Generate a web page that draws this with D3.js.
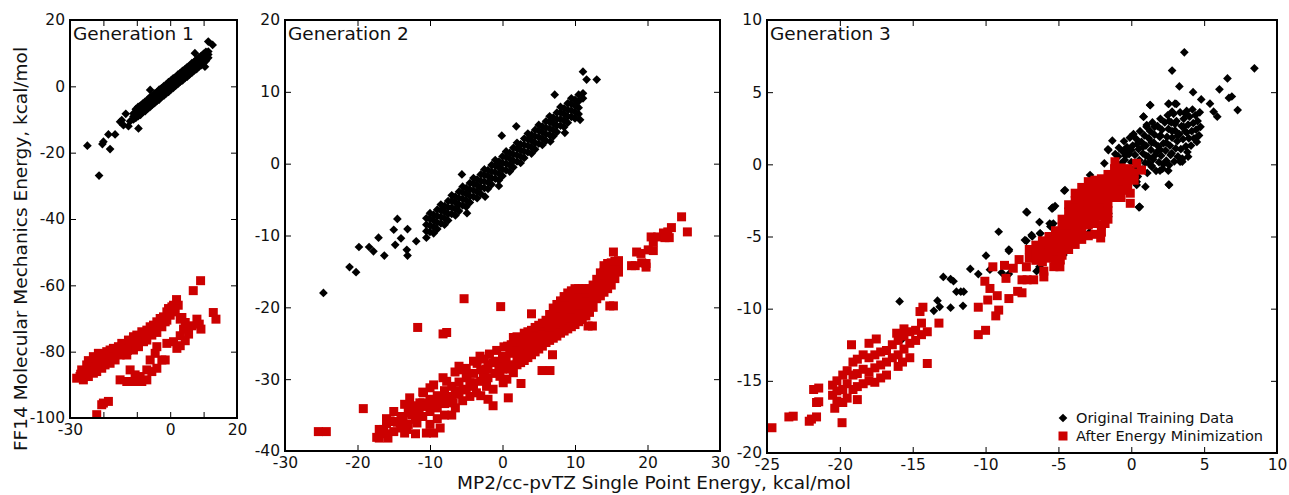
<!DOCTYPE html>
<html>
<head>
<meta charset="utf-8">
<script src="https://cdn.jsdelivr.net/npm/d3@7"></script>
<style>
  body { margin: 0; background: #fff; }
  svg { display: block; font-family: "DejaVu Sans", sans-serif; }
</style>
</head>
<body>
<svg id="chart"></svg>
<script>
// ---- data: [MP2 energy, FF14 energy] ----

// Generation 1
const g1Orig = [
  [-24.8,-17.9],[-21.3,-26.9],[-20.3,-17.4],[-20,-16.7],[-18.5,-14.5],[-16.5,-14.5],[-18,-18.9],
  [-15,-10.7],[-14,-11.7],[-12.5,-12],[-13.3,-8.3],[-9.5,-12.7],[-6,-1.1],[10.4,5.9],[7.4,10],
  [11.4,13.5],[12.7,12.5],[-14.5,-10.2],[-12,-10.5],
  [-11,-10.0],[-11,-9.1],[-11,-8.2],[-10.3,-9.5],[-10.3,-8.7],[-10.3,-7.7],[-10.3,-6.9],
  [-9.6,-9.0],[-9.6,-8.1],[-9.6,-7.3],[-9.6,-6.2],[-8.9,-8.6],[-8.9,-7.5],[-8.9,-6.7],[-8.9,-5.8],
  [-8.2,-7.8],[-8.2,-7.0],[-8.2,-6.0],[-8.2,-5.2],[-7.5,-7.5],[-7.5,-6.4],[-7.5,-5.6],[-7.5,-4.6],
  [-6.8,-6.7],[-6.8,-5.9],[-6.8,-4.9],[-6.8,-4.1],[-6.1,-6.3],[-6.1,-5.2],[-6.1,-4.4],[-6.1,-3.3],
  [-5.4,-5.5],[-5.4,-4.7],[-5.4,-3.7],[-5.4,-2.9],[-4.7,-5.1],[-4.7,-4.1],[-4.7,-3.2],[-4.7,-2.2],
  [-4.0,-4.4],[-4.0,-3.6],[-4.0,-2.6],[-4.0,-1.8],[-3.3,-4.0],[-3.3,-2.9],[-3.3,-2.1],[-3.3,-1.0],
  [-2.6,-3.2],[-2.6,-2.4],[-2.6,-1.5],[-2.6,-0.6],[-1.9,-2.8],[-1.9,-1.8],[-1.9,-0.9],[-1.9,0.1],
  [-1.2,-2.1],[-1.2,-1.3],[-1.2,-0.3],[-1.2,0.5],[-0.5,-1.7],[-0.5,-0.6],[-0.5,0.3],[-0.5,1.3],
  [0.2,-0.9],[0.2,-0.1],[0.2,0.9],[0.2,1.7],[0.9,-0.5],[0.9,0.5],[0.9,1.4],[0.9,2.4],
  [1.6,0.2],[1.6,1.0],[1.6,2.0],[1.6,2.8],[2.3,0.7],[2.3,1.7],[2.3,2.5],[2.3,3.5],
  [3.0,1.4],[3.0,2.2],[3.0,3.1],[3.0,4.0],[3.7,1.8],[3.7,2.8],[3.7,3.7],[3.7,4.7],
  [4.4,2.5],[4.4,3.3],[4.4,4.3],[4.4,5.1],[5.1,2.9],[5.1,3.9],[5.1,4.8],[5.1,5.8],
  [5.8,3.6],[5.8,4.4],[5.8,5.4],[5.8,6.2],[6.5,4.1],[6.5,5.1],[6.5,6.0],[6.5,7.0],
  [7.2,4.8],[7.2,5.6],[7.2,6.6],[7.2,7.4],[7.9,5.2],[7.9,6.2],[7.9,7.1],[7.9,8.1],
  [8.6,5.9],[8.6,6.8],[8.6,7.7],[8.6,8.6],[9.3,6.4],[9.3,7.4],[9.3,8.3],[9.3,9.2],
  [10.0,7.1],[10.0,8.0],[10.0,8.9],[10.0,9.8],[10.7,7.7],[10.7,8.6],[10.7,9.5],[10.7,10.4],
  [11.4,8.6],[11.4,9.6],[11.4,10.5]
];
const g1Min = [
  [-28,-88],[-27,-87.5],[-26.5,-85.5],[-26,-88.5],[-25.5,-86],[-25,-84],[-24.5,-82.7],[-24.5,-87.5],
  [-24,-85.5],[-23.5,-83],[-23,-86.5],[-23,-81.5],[-22.5,-84.5],[-22,-82],[-22,-86],[-21.5,-80.5],
  [-21,-83.5],[-20.5,-85],[-20,-80.7],[-20,-82.5],[-19.5,-84],[-19,-80],[-18.5,-82],[-18,-79.5],
  [-18,-83.5],[-17.5,-81],[-17,-79],[-16.5,-82.5],[-16,-80],[-15.5,-78.5],[-15,-81],[-14.5,-77.5],
  [-14,-80],[-13.5,-78],[-13,-81],[-12.5,-76.5],[-12,-79],[-11.5,-77.5],[-11,-75.5],[-11,-79.5],
  [-10.5,-77],[-10,-75],[-9.5,-78.5],[-9,-76.5],[-8.5,-74],[-8,-77],[-7.5,-75],[-7,-73.5],[-7,-76.5],
  [-6.5,-74.5],[-6,-72.5],[-5.5,-75],[-5,-72],[-4.5,-73.5],[-4,-71],[-4,-74.2],[-3.5,-72],[-3,-70],
  [-2.5,-72.5],[-2,-69.5],[-1.5,-71],[-1,-68],[-1,-70.5],[-0.5,-67],[0,-69],[0.5,-66.5],[1,-66],
  [1.5,-68],[2.4,-66],[-26.8,-86.8],[-21.8,-84.2],[-17,-81.8],[-12.8,-79.6],[-9.8,-76.8],[-6.2,-74.0],
  [-2.8,-71.2],[-0.2,-68.2],
  [-12,-85.5],[-10.5,-87],[-9,-87.5],[-15,-88.5],[-13,-89],[-11.5,-89],[-10,-89],[-8.5,-89],[-7,-88.5],
  [-6,-82.5],[-4.5,-80.5],[-4,-78.5],[-7,-85.5],[-5.5,-86],[-4,-85],[-2.5,-82.5],[-1.5,-82.5],
  [-1,-77.5],[1,-77],[2,-79],[3,-75.2],[4,-73.2],[4.5,-71.2],[3,-70.2],[3.5,-69.7],[5.5,-74.7],
  [6.5,-72.2],[8,-70.2],[8.7,-71.7],[9.2,-73.2],[3,-78.2],[4.5,-76.7],[12.9,-68.2],[13.7,-70.2],
  [9.1,-58.6],[6.9,-61.6],[1.9,-64.3],
  [-20,-95.5],[-18.5,-95],[-22,-99],[-20.5,-96]
];

// Generation 2
const g2Orig = [
  [-24.7,-18],[-21.1,-14.4],[-20.2,-15.1],[-19.8,-11.6],[-18.4,-11.6],[-17.8,-12.2],[-17.1,-10.3],
  [-16.3,-12.8],[-15,-9.2],[-14.5,-7.7],[-14.8,-11.3],[-14,-10.4],[-13.1,-9.1],[-13.2,-12],[-13.1,-12.8],
  [-11.9,-10.8],[11.1,12.8],[11.6,11.7],[13,11.7],[11.1,9.8],[11.1,9.1],[10.7,6.1],[7.2,9.6],[-0.1,3.9],
  [1.9,5.2],[-5.6,-1.5],[-4.9,-6.9],[-2.4,-4.6],[-0.5,-3.1],[6.6,3.1],[8.6,4.3],
  [-10.5,-10.3],[-10.5,-9.4],[-10.5,-8.5],[-10.5,-7.6],[-10,-9.5],[-10,-8.6],[-10,-7.7],[-10,-6.9],
  [-9.5,-9.7],[-9.5,-8.8],[-9.5,-7.9],[-9.5,-7.1],[-9,-9.1],[-9,-8.2],[-9,-7.3],[-9,-6.4],
  [-8.5,-8.3],[-8.5,-7.4],[-8.5,-6.5],[-8.5,-5.7],[-8,-8.5],[-8,-7.6],[-8,-6.7],[-8,-5.9],
  [-7.5,-7.9],[-7.5,-7.0],[-7.5,-6.1],[-7.5,-5.2],[-7,-7.0],[-7,-6.1],[-7,-5.2],[-7,-4.4],
  [-6.5,-7.2],[-6.5,-6.3],[-6.5,-5.4],[-6.5,-4.6],[-6,-6.6],[-6,-5.7],[-6,-4.8],[-6,-3.9],
  [-5.5,-5.8],[-5.5,-4.9],[-5.5,-4.0],[-5.5,-3.2],[-5,-6.0],[-5,-5.1],[-5,-4.2],[-5,-3.4],
  [-4.5,-5.4],[-4.5,-4.5],[-4.5,-3.6],[-4.5,-2.7],[-4,-4.6],[-4,-3.7],[-4,-2.8],[-4,-2.0],
  [-3.5,-4.8],[-3.5,-3.9],[-3.5,-3.0],[-3.5,-2.2],[-3,-4.2],[-3,-3.3],[-3,-2.4],[-3,-1.5],
  [-2.5,-3.4],[-2.5,-2.5],[-2.5,-1.6],[-2.5,-0.8],[-2,-3.5],[-2,-2.6],[-2,-1.7],[-2,-0.9],
  [-1.5,-2.9],[-1.5,-2.0],[-1.5,-1.1],[-1.5,-0.2],[-1,-2.1],[-1,-1.2],[-1,-0.3],[-1,0.5],
  [-0.5,-2.3],[-0.5,-1.4],[-0.5,-0.5],[-0.5,0.3],[0,-1.7],[0,-0.8],[0,0.1],[0,1.0],
  [0.5,-0.9],[0.5,0.0],[0.5,0.9],[0.5,1.7],[1,-1.1],[1,-0.2],[1,0.7],[1,1.5],
  [1.5,-0.5],[1.5,0.4],[1.5,1.3],[1.5,2.2],[2,0.3],[2,1.2],[2,2.1],[2,2.9],
  [2.5,0.1],[2.5,1.0],[2.5,1.9],[2.5,2.7],[3,0.8],[3,1.7],[3,2.6],[3,3.5],
  [3.5,1.6],[3.5,2.5],[3.5,3.4],[3.5,4.2],[4,1.4],[4,2.3],[4,3.2],[4,4.0],
  [4.5,2.0],[4.5,2.9],[4.5,3.8],[4.5,4.7],[5,2.8],[5,3.7],[5,4.6],[5,5.4],
  [5.5,2.6],[5.5,3.5],[5.5,4.4],[5.5,5.2],[6,3.2],[6,4.1],[6,5.0],[6,5.9],
  [6.5,4.0],[6.5,4.9],[6.5,5.8],[6.5,6.6],[7,3.8],[7,4.7],[7,5.6],[7,6.4],
  [7.5,4.4],[7.5,5.3],[7.5,6.2],[7.5,7.1],[8,5.3],[8,6.2],[8,7.1],[8,7.9],
  [8.5,5.1],[8.5,6.0],[8.5,6.9],[8.5,7.7],[9,5.7],[9,6.6],[9,7.5],[9,8.4],
  [9.5,6.5],[9.5,7.4],[9.5,8.3],[9.5,9.1],[10,6.3],[10,7.2],[10,8.1],[10,8.9],
  [10.5,6.9],[10.5,7.8],[10.5,8.7],[10.5,9.6]
];
const g2Min = [
  [-25.4,-37.3],[-24.3,-37.3],[-19.2,-34.1],[-17.35,-38.1],[-16.4,-37],[-15.5,-35.8],[-14.1,-36.1],
  [-13.7,-35.6],[-12.76,-34.7],[-12.3,-33.7],[-11.4,-33.3],[-10.9,-31.9],[-10.5,-37.5],[-9.5,-37.5],
  [-8.6,-36.8],[-11.8,-36.1],[-13.2,-37],[-9.5,-33.3],[-8.6,-32.8],[-7.7,-32.4],[-6.8,-33.3],[-7,-35],
  [-8.2,-29.8],[-7.7,-30.3],[-6.55,-29],[-5.9,-28.7],[-5.4,-31.4],[-4.5,-32.4],[-3.6,-31.9],[-4,-27.5],
  [-3.1,-26.8],[-4.9,-29.6],[-4,-30.5],[-2.65,-29.6],[-2.2,-31],[-1.3,-31.4],[-1.3,-33.7],[-2.2,-28.6],
  [-1.3,-27.7],[-0.35,-27.7],[0.1,-26.8],[0.8,-32.6],[-0.35,-29.6],[0.1,-30.5],[0.6,-30],[1.04,-28.6],
  [1.5,-29.1],[2.55,-30.6],[0.7,-25.4],[4,-20.9],[6.9,-26.6],[5.45,-28.8],[6.55,-28.8],
  [-11.7,-22.8],[-8.2,-23.7],[-7.7,-23.5],[-5.3,-18.8],[-0.25,-19.9],[24.7,-7.4],[25.5,-9.5],[23.3,-8.9],
  [22.8,-9.5],[23,-10.3],[20.5,-10.2],[21.4,-10.2],[20.8,-10.9],[19.1,-12.5],[20.8,-12.1],[19.8,-13.9],
  [19.8,-14.4],[15.3,-12.3],[18.3,-14.2],[15.3,-19.8],[12.4,-22.6],[18.5,-12.3],[20.1,-12],[19.2,-13.8],
  [17.8,-14.2],[14.8,-19.8],[11.8,-22.6],[22.2,-9.65],[22.4,-10.3],
  [-17,-38.2],[-17,-37.0],[-16.5,-37.4],[-16,-37.6],[-16,-36.2],[-15,-37.3],[-15,-35.9],[-14.5,-36.0],
  [-14,-36.8],[-14,-35.2],[-13,-36.3],[-13,-34.6],[-12.5,-35.0],[-12,-35.6],[-12,-34.0],[-11,-35.2],
  [-11,-33.3],[-10.5,-33.8],[-10,-34.5],[-10,-32.8],[-9,-34.0],[-9,-32.3],[-8.5,-33.0],[-8,-33.4],
  [-8,-31.6],[-7,-32.8],[-7,-31.0],[-6.5,-31.6],[-6,-32.1],[-6,-30.4],[-5,-31.5],[-5,-29.8],
  [-4.5,-30.5],[-4,-31.0],[-4,-29.2],[-3,-30.3],[-3,-28.7],[-2.5,-29.2],[-2,-29.8],[-2,-28.0],
  [-1,-29.2],[-1,-27.5],[-0.5,-28.2],[0,-28.6],[0,-27.0],[0.5,-27.4],[1,-28.0],[1,-26.4],
  [-16,-35.5],[-15,-34.5],[-13.5,-33.5],[-12.8,-32.6],[-11.5,-34.5],[-10,-36.3],[-9,-35.5],[-8,-35],
  [-6.5,-34],[-5.5,-33],[-3,-32.3],[-2,-32.8],[-13.5,-37.5],[-15.8,-38.2],[-12,-37.6],[-11,-31.8],
  [-10,-31.2],[-9.5,-30.8],[-6,-28.2],[-5,-28.5],[-3.5,-27.8],[-2.5,-27.2],[-1.8,-26.5],[-0.8,-26],
  [0.2,-25.5],[1.2,-25.2],[1.5,-24.2],
  [2,-24.1],[2,-25.1],[2,-26.1],[2,-27.0],[2,-28.0],[3,-23.6],[3,-24.6],[3,-25.5],[3,-26.5],[3,-27.4],
  [4,-23.2],[4,-24.1],[4,-25.0],[4,-25.8],[4,-26.6],[5,-22.5],[5,-23.3],[5,-24.1],[5,-25.0],[5,-25.8],
  [6,-21.8],[6,-22.8],[6,-23.9],[6,-24.9],[7,-20.1],[7,-21.1],[7,-22.2],[7,-23.2],[7,-24.3],
  [8,-19.1],[8,-20.2],[8,-21.3],[8,-22.5],[8,-23.6],[9,-18.0],[9,-19.0],[9,-20.0],[9,-21.0],[9,-22.0],
  [9,-23.0],[10,-17.4],[10,-18.4],[10,-19.4],[10,-20.4],[10,-21.4],[10,-22.4],[11,-17.4],[11,-18.5],
  [11,-19.5],[11,-20.6],[11,-21.7],[12,-17.4],[12,-18.5],[12,-19.6],[12,-20.7],[13,-16.1],[13,-17.0],
  [13,-17.9],[13,-18.8],[14,-14.2],[14,-15.1],[14,-16.0],[14,-17.0],[14,-17.9],[15,-13.8],[15,-14.8],
  [15,-15.9],[15,-16.9],[16,-13.5],[16,-14.3],[16,-15.1],
  [2.5,-24.4],[2.5,-26.3],[2.5,-27.7],[3.5,-23.4],[3.5,-25.2],[3.5,-27.0],[4.5,-22.8],[4.5,-24.5],
  [4.5,-26.2],[5.5,-22.2],[5.5,-23.8],[5.5,-25.4],[6.5,-21.0],[6.5,-22.8],[6.5,-24.6],[7.5,-19.6],
  [7.5,-21.8],[7.5,-24.0],[8.5,-18.5],[8.5,-20.9],[8.5,-23.3],[9.5,-17.7],[9.5,-20.2],[9.5,-22.7],
  [10.5,-17.4],[10.5,-19.7],[10.5,-22.0],[11.5,-17.4],[11.5,-19.3],[11.5,-21.2],[12.5,-16.9],
  [12.5,-18.5],[12.5,-20.0],[13.5,-15.2],[13.5,-16.8],[13.5,-18.4],[14.5,-13.9],[14.5,-15.6],
  [14.5,-17.4],[15.5,-13.6],[15.5,-14.8],[15.5,-16.0]
];

// Generation 3
const g3Orig = [
  [3.64,7.76],[8.45,6.65],[2.8,6.5],[3.3,5.4],[4.24,5.0],[4.8,4.5],[6.05,5.2],[6.6,5.95],[6.7,4.6],
  [6.9,4.7],[7.3,3.76],[5.9,3.3],[5.65,3.65],[5.4,4.2],[1.3,4.1],[0.85,3.3],[2.57,4.2],[3.0,4.2],
  [-1.3,1.64],[-1.6,1.04],[-1.85,0.07],[-0.4,1.0],[2.57,-1.4],[0.97,-1.55],[0.55,-2.94],[3.5,0.18],
  [3.9,0.53],[4.5,1.87],[-4.6,-1.83],[-7.2,-3.3],[-5.4,-3.05],[-6.3,-4.0],[-9.1,-4.67],[-8.4,-5.9],
  [-7.3,-5.25],[-6.8,-5.0],[-5.6,-4.1],[-2.8,-4.8],
  [-15.9,-9.5],[-15.7,-12.1],[-12.9,-7.8],[-12.4,-7.95],[-12.2,-8.1],[-12,-8.82],[-11.7,-8.82],
  [-11.5,-8.82],[-11.05,-7.25],[-10.5,-7.6],[-13.3,-9.45],[-13.15,-9.87],[-13.55,-10.15],[-12.4,-9.93],
  [-11.55,-9.8],[-9.97,-6.33],[-9.7,-7.3],[-8.4,-6.0],[-7.15,-3.33],[-7.2,-5.3],[-6.25,-4.8],
  [-5.55,-4.3],[-5.4,-3.0],[-8.9,-7.5],[-8.4,-7.6],[-6.5,-7.4],[-6.3,-7.1],[-2.87,-4.7],[-1.6,-3.35],
  [0.58,-2.94],[-4.8,-6.25],
  [1.29,4.11],[2.55,4.18],[3.1,4.18],[2.8,3.65],[3.69,3.53],[0.83,3.3],[1.06,2.72],[-1.57,0.99],
  [-1.1,0.71],[-0.43,0.99],[-2.83,-0.74],[-4.55,-1.78],[-5.46,-3.05],[-5.23,-2.89],[-6.84,-4.9],
  [-6.26,-4.78],[-5.46,-4.2],[-5.35,-4.1],[-1.57,-3.4],[-1.57,-3.63],[0.53,-2.98],[2.6,-1.43],
  [1.97,-0.44],[2.54,-0.44],[3.46,0.3],[3.35,0.18],[2.77,0.76],[1.4,-0.16],[0.37,-1.2],[0.37,-1.43],
  [-0.32,-0.97],[-4.66,-6.28],
  [-0.95,-0.4],[-0.9,0.55],[-0.85,1.15],[-0.7,0.05],[-0.65,-0.75],[-0.6,0.9],[-0.5,1.6],[-0.45,0.3],
  [-0.35,-0.35],[-0.3,1.2],[-0.2,-0.95],[-0.15,0.7],[-0.1,1.85],[0.0,0.15],[0.05,-0.6],[0.1,1.3],
  [0.15,2.1],[0.25,0.65],[0.3,-0.2],[0.35,1.75],[0.45,-0.85],[0.5,1.05],[0.55,0.3],[0.6,2.3],
  [0.7,1.55],[0.75,-0.35],[0.8,0.75],[0.9,2.0],[0.95,0.1],[1.0,1.3],[1.05,2.6],[1.1,-0.6],
  [1.15,0.55],[1.2,1.8],[1.3,2.3],[1.35,1.0],[1.4,-0.1],[1.45,2.9],[1.5,0.35],[1.55,1.5],
  [1.6,2.05],[1.7,-0.45],[1.75,0.85],[1.8,2.65],[1.85,1.25],[1.9,0.15],[1.95,1.9],[2.0,3.15],
  [2.05,0.6],[2.1,2.4],[2.15,-0.3],[2.2,1.45],[2.3,2.9],[2.35,0.95],[2.4,0.25],[2.45,1.9],
  [2.5,3.4],[2.55,2.45],[2.6,-0.05],[2.65,1.3],[2.7,0.65],[2.75,2.9],[2.8,1.85],[2.9,3.5],
  [2.95,0.2],[3.0,2.35],[3.05,1.1],[3.1,3.0],[3.15,1.6],[3.2,0.55],[3.3,2.1],[3.35,3.6],
  [3.4,1.05],[3.45,2.65],[3.5,0.4],[3.55,1.75],[3.6,3.15],[3.7,2.3],[3.75,1.25],[3.8,3.7],
  [3.85,0.85],[3.9,2.75],[3.95,1.8],[4.0,3.3],[4.1,1.3],[4.15,2.3],[4.2,3.8],[4.25,2.85],
  [4.3,1.8],[4.4,3.4],[4.45,2.4],[4.5,1.55],[4.55,3.0],[4.65,2.0],[4.7,3.6],[4.75,2.6],
  [0.0,1.0],[0.4,0.0],[1.2,0.1],[2.0,1.0],[3.0,2.8],[1.6,2.6],[2.6,3.0],[3.6,2.6],[0.8,1.2],[2.2,0.0],
  [1.0,0.6],[1.6,0.6],[2.4,1.5],[3.2,2.0],[0.4,1.4],[-0.4,0.6],[2.8,2.3],[3.8,2.2],[1.4,1.5],[2.0,2.0]
];
const g3Min = [
  [-24.66,-18.25],[-23.5,-17.5],[-23.2,-17.45],[-22.1,-17.8],[-21.95,-17.65],[-21.6,-17.5],[-21.8,-15.6],
  [-21.45,-15.5],[-21.6,-16.5],[-21.45,-16.45],[-20.35,-16.9],[-19.85,-17.9],[-19.2,-12.5],[-18,-12.4],
  [-17.5,-12.1],[-16.1,-11.7],[-15.6,-11.4],[-15.7,-13.7],[-14.3,-9.9],[-14.5,-10.2],[-13.2,-11.0],
  [-14.0,-13.8],[-14.0,-11.6],[-10.5,-9.9],[-10.5,-11.8],[-10.0,-11.5],[-10.05,-8.1],[-9.7,-8.6],
  [-9.85,-9.4],[-9.2,-9.1],[-9.3,-10.5],[-9.1,-10.1],[-9.5,-7.1],[-8.7,-7.0],[-8.6,-7.9],[-8.4,-9.3],
  [-8.1,-7.2],[-7.7,-6.6],[-7.8,-8.8],[-7.5,-8.9],[-7.2,-7.1],[-7.5,-8.0],[-7.15,-8.0],[-6.7,-8.0],
  [-6.0,-7.4],[-6.0,-7.8],[-4.9,-7.1],[-6.24,-5.71],[-5.55,-5.94],[-5.32,-7.09],[-4.87,-6.63],
  [-4.41,-5.25],[-1.12,0.18],[0.37,0.07],[0.7,-0.4],[-0.09,-0.51],[-0.07,-2.0],[-0.07,-2.7],
  [-2.1,-5.1],[-1.8,-4.1],
  [-20.5,-15.3],[-20.5,-16.0],[-20.2,-15.0],[-20.2,-16.4],[-20.2,-15.7],[-19.8,-14.6],[-19.8,-15.6],
  [-19.8,-16.5],[-19.5,-14.3],[-19.5,-15.2],[-19.5,-16.2],[-19.1,-13.7],[-19.1,-14.6],[-19.1,-15.6],
  [-18.8,-13.5],[-18.8,-14.5],[-18.8,-15.4],[-18.8,-16.3],[-18.4,-13.2],[-18.4,-14.2],[-18.4,-15.2],
  [-18.0,-13.4],[-18.0,-14.4],[-18.0,-15.0],[-17.6,-13.2],[-17.6,-14.1],[-17.6,-15.1],[-17.2,-13.0],
  [-17.2,-13.9],[-17.2,-14.8],[-16.8,-12.9],[-16.8,-13.7],[-16.8,-14.6],[-16.4,-12.5],[-16.4,-13.4],
  [-16.0,-12.2],[-16.0,-13.2],[-16.0,-14.0],[-15.6,-11.9],[-15.6,-12.8],[-15.2,-11.6],[-15.2,-12.4],
  [-15.2,-13.4],[-14.8,-11.5],[-14.8,-12.2],[-14.4,-11.0],[-14.4,-11.8],
  [-7.0,-5.9],[-7.0,-6.5],[-6.55,-5.6],[-6.55,-6.1],[-6.55,-6.65],[-6.1,-5.3],[-6.1,-5.8],[-6.1,-6.3],
  [-6.1,-6.75],[-5.65,-5.0],[-5.65,-5.5],[-5.65,-6.0],[-5.65,-6.5],[-5.2,-4.6],[-5.2,-5.1],[-5.2,-5.6],
  [-5.2,-6.1],[-5.2,-6.6],[-4.75,-3.8],[-4.75,-4.3],[-4.75,-4.8],[-4.75,-5.3],[-4.75,-5.8],[-4.75,-6.3],
  [-4.3,-2.8],[-4.3,-3.3],[-4.3,-3.8],[-4.3,-4.3],[-4.3,-4.8],[-4.3,-5.3],[-4.3,-5.9],
  [-3.85,-2.0],[-3.85,-2.5],[-3.85,-3.0],[-3.85,-3.5],[-3.85,-4.0],[-3.85,-4.5],[-3.85,-5.0],[-3.85,-5.55],
  [-3.4,-1.6],[-3.4,-2.1],[-3.4,-2.6],[-3.4,-3.1],[-3.4,-3.6],[-3.4,-4.1],[-3.4,-4.6],[-3.4,-5.2],
  [-2.95,-1.2],[-2.95,-1.7],[-2.95,-2.2],[-2.95,-2.7],[-2.95,-3.2],[-2.95,-3.7],[-2.95,-4.2],[-2.95,-4.95],
  [-2.5,-1.1],[-2.5,-1.6],[-2.5,-2.1],[-2.5,-2.6],[-2.5,-3.1],[-2.5,-3.6],[-2.5,-4.1],[-2.5,-4.85],
  [-2.05,-1.0],[-2.05,-1.5],[-2.05,-2.0],[-2.05,-2.5],[-2.05,-3.0],[-2.05,-3.6],[-2.05,-4.2],[-2.05,-4.7],
  [-1.6,-0.7],[-1.6,-1.2],[-1.6,-1.7],[-1.6,-2.2],[-1.6,-2.7],[-1.6,-3.2],[-1.6,-3.8],
  [-1.15,-0.3],[-1.15,-0.8],[-1.15,-1.3],[-1.15,-1.8],[-1.15,-2.3],
  [-0.7,-0.25],[-0.7,-0.75],[-0.7,-1.25],[-0.7,-1.75],[-0.7,-2.3],
  [-0.25,-0.3],[-0.25,-0.8],[-0.25,-1.3],[-0.25,-1.8],[0.2,-0.6],[0.2,-1.1]
];

// ticks and labels for each panel
const g1XTicks = [-30, -20, -10, 0, 10, 20], g1XLabels = [-30, 0, 20];
const g1YTicks = [-100, -80, -60, -40, -20, 0, 20];
const g2XTicks = [-30, -20, -10, 0, 10, 20, 30];
const g2YTicks = [-40, -30, -20, -10, 0, 10, 20];
const g3XTicks = [-25, -20, -15, -10, -5, 0, 5, 10];
const g3YTicks = [-20, -15, -10, -5, 0, 5, 10];

const seriesNames = ["Original Training Data", "After Energy Minimization"];

const panels = [
  { title: "Generation 1", box: [70, 237, 20, 418], xDomain: [-30, 20], yDomain: [-100, 20],
    xTicks: g1XTicks, xLabels: g1XLabels, yTicks: g1YTicks, orig: g1Orig, min: g1Min },
  { title: "Generation 2", box: [285, 720, 20, 451], xDomain: [-30, 30], yDomain: [-40, 20],
    xTicks: g2XTicks, xLabels: g2XTicks, yTicks: g2YTicks, orig: g2Orig, min: g2Min },
  { title: "Generation 3", box: [767, 1277, 20, 453], xDomain: [-25, 10], yDomain: [-20, 10],
    xTicks: g3XTicks, xLabels: g3XTicks, yTicks: g3YTicks, orig: g3Orig, min: g3Min, legend: true }
];

const width = 1289, height = 495;
const RED = "#cc0000";
const tickFont = 15.5;

const svg = d3.select("#chart")
  .attr("width", width)
  .attr("height", height);

// diamond = square turned by 45 degrees
const diamond = d3.symbol().type(d3.symbolSquare).size(38)();
const square = d3.symbol().type(d3.symbolSquare).size(81)();

function drawPanel(p, i) {
  const [left, right, top, bottom] = p.box;
  const x = d3.scaleLinear().domain(p.xDomain).range([left, right]);
  const y = d3.scaleLinear().domain(p.yDomain).range([bottom, top]);

  const g = svg.append("g");

  // clip the markers to the plot box
  svg.append("clipPath").attr("id", "clip" + i)
    .append("rect")
    .attr("x", left).attr("y", top)
    .attr("width", right - left).attr("height", bottom - top);

  const pts = g.append("g").attr("clip-path", `url(#clip${i})`);

  pts.selectAll(".orig")
    .data(p.orig)
    .enter()
    .append("path")
    .attr("class", "orig")
    .attr("d", diamond)
    .attr("transform", d => `translate(${x(d[0])},${y(d[1])}) rotate(45)`)
    .attr("fill", "#000");

  pts.selectAll(".min")
    .data(p.min)
    .enter()
    .append("path")
    .attr("class", "min")
    .attr("d", square)
    .attr("transform", d => `translate(${x(d[0])},${y(d[1])})`)
    .attr("fill", RED);

  // axes, ticks pointing inward on all four sides
  const fmt = labels => d => labels.includes(d) ? String(d) : "";
  const axes = [
    [d3.axisBottom(x).tickValues(p.xTicks).tickFormat(fmt(p.xLabels)).tickPadding(6), `translate(0,${bottom})`],
    [d3.axisTop(x).tickValues(p.xTicks).tickFormat(""), `translate(0,${top})`],
    [d3.axisLeft(y).tickValues(p.yTicks).tickFormat(fmt(p.yTicks)).tickPadding(5), `translate(${left},0)`],
    [d3.axisRight(y).tickValues(p.yTicks).tickFormat(""), `translate(${right},0)`]
  ];
  axes.forEach(([axis, tr]) => {
    const a = g.append("g")
      .attr("transform", tr)
      .call(axis.tickSizeInner(-6).tickSizeOuter(0));
    a.select(".domain").remove();
    a.selectAll("line").attr("stroke", "#000").attr("stroke-width", 1);
    a.selectAll("text")
      .attr("fill", "#111")
      .style("font-family", "'DejaVu Sans', sans-serif")
      .style("font-size", tickFont + "px");
  });

  // frame
  g.append("rect")
    .attr("x", left).attr("y", top)
    .attr("width", right - left).attr("height", bottom - top)
    .attr("fill", "none")
    .attr("stroke", "#000")
    .attr("stroke-width", 2);

  g.append("text")
    .attr("x", left + 3)
    .attr("y", 40)
    .attr("fill", "#111")
    .style("font-size", "18.5px")
    .text(p.title);

  if (p.legend) {
    const lg = g.append("g").attr("transform", "translate(1063,418)");
    lg.append("path").attr("d", diamond).attr("transform", "rotate(45)").attr("fill", "#000");
    lg.append("path").attr("d", square).attr("transform", "translate(0,18)").attr("fill", RED);
    lg.selectAll("text")
      .data(seriesNames)
      .enter()
      .append("text")
      .attr("x", 13)
      .attr("y", (d, k) => 5 + k * 18)
      .attr("fill", "#111")
      .style("font-size", "14.5px")
      .text(d => d);
  }
}

panels.forEach(drawPanel);

// shared axis titles
svg.append("text")
  .attr("x", 654)
  .attr("y", 489)
  .attr("text-anchor", "middle")
  .attr("fill", "#111")
  .style("font-size", "18.5px")
  .text("MP2/cc-pvTZ Single Point Energy, kcal/mol");

svg.append("text")
  .attr("transform", "translate(27,249) rotate(-90)")
  .attr("text-anchor", "middle")
  .attr("fill", "#111")
  .style("font-size", "18.5px")
  .text("FF14 Molecular Mechanics Energy, kcal/mol");
</script>
</body>
</html>
